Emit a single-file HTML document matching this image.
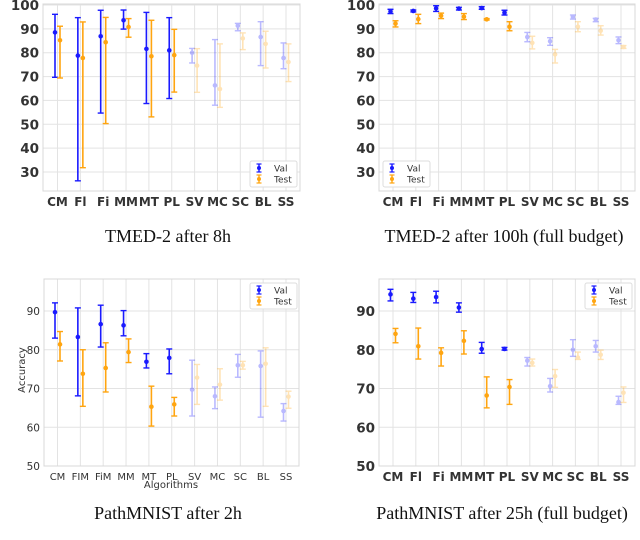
<!DOCTYPE html>
<html><head><meta charset="utf-8"><style>
body{margin:0;background:#fff;}
svg{display:block;}
</style></head><body>
<svg id="fig" width="640" height="540" viewBox="0 0 640 540" xmlns="http://www.w3.org/2000/svg"></svg>
<script>
const cats1 = ["CM","Fl","Fi","MM","MT","PL","SV","MC","SC","BL","SS"];
const cats3 = ["CM","FIM","FiM","MM","MT","PL","SV","MC","SC","BL","SS"];
// TMED-2 after 8h
const p1ValMean = [88.5,78.8,86.9,93.6,81.6,81.0,80.0,66.3,91.3,86.6,77.8];
const p1ValLo   = [69.7,26.3,54.7,89.9,58.7,60.8,75.7,58.0,89.2,74.6,73.3];
const p1ValHi   = [96.1,94.7,97.8,97.9,96.9,94.7,81.8,85.5,92.3,93.0,84.1];
const p1TestMean= [85.2,77.8,84.4,90.8,78.5,79.0,74.6,64.8,86.0,83.7,76.1];
const p1TestLo  = [69.4,31.8,50.3,86.5,53.1,63.5,63.4,57.1,81.3,73.6,67.9];
const p1TestHi  = [91.1,92.9,94.8,94.3,93.6,89.8,81.7,83.7,88.3,89.0,83.7];
// TMED-2 after 100h
const p2ValMean = [97.3,97.5,98.6,98.5,98.7,96.8,86.6,84.8,95.0,93.9,85.2];
const p2ValLo   = [96.4,97.1,97.3,97.9,98.2,95.8,84.6,83.1,94.1,93.0,83.8];
const p2ValHi   = [98.2,97.9,99.7,99.0,99.3,97.8,88.5,86.3,95.8,94.4,86.6];
const p2TestMean= [92.2,94.1,95.5,95.1,94.0,90.9,84.1,79.3,90.9,89.2,82.4];
const p2TestLo  = [90.8,92.2,94.3,93.9,93.7,89.2,81.6,75.7,88.8,87.4,81.8];
const p2TestHi  = [93.4,96.1,96.6,96.4,94.3,93.0,86.9,81.4,93.0,91.3,83.0];
// PathMNIST after 2h
const p3ValMean = [89.7,83.3,86.6,86.3,76.9,77.9,69.7,68.0,76.0,75.8,64.2];
const p3ValLo   = [83.0,68.1,80.7,83.6,75.3,73.8,62.9,64.8,72.9,62.6,61.6];
const p3ValHi   = [92.1,90.8,91.5,90.1,79.0,80.2,77.3,70.4,78.8,79.7,66.1];
const p3TestMean= [81.4,73.8,75.3,79.4,65.3,65.9,72.8,71.0,76.0,76.4,67.9];
const p3TestLo  = [77.1,65.4,69.1,76.7,60.3,62.9,65.9,67.0,75.0,65.4,64.9];
const p3TestHi  = [84.7,80.0,81.8,82.8,70.6,67.7,76.2,75.1,77.0,80.5,69.3];
// PathMNIST after 25h
const p4ValMean = [94.3,93.2,93.6,90.9,80.2,80.2,77.2,70.6,80.0,80.9,66.5];
const p4ValLo   = [92.6,92.2,92.1,89.7,79.1,79.9,75.8,69.1,78.3,79.4,65.9];
const p4ValHi   = [95.6,94.8,95.1,92.1,81.9,80.6,78.0,72.6,82.6,82.4,68.0];
const p4TestMean= [84.1,80.9,79.2,82.3,68.2,70.4,76.6,73.2,78.0,78.7,68.9];
const p4TestLo  = [81.8,77.6,75.8,78.9,65.0,65.9,75.8,70.3,77.5,77.5,66.4];
const p4TestHi  = [85.5,85.6,80.5,84.9,73.0,72.3,77.6,74.9,79.4,79.9,70.4];
const ticksTop = [30,40,50,60,70,80,90,100];
const ticksBot = [50,60,70,80,90];

const NS="http://www.w3.org/2000/svg";
const svg=document.getElementById('fig');
function mk(tag,attrs,parent){const e=document.createElementNS(NS,tag);for(const k in attrs)e.setAttribute(k,attrs[k]);(parent||svg).appendChild(e);return e;}

function panel(cfg){
  const g=mk('g',{});
  
  
  const x0=cfg.x0,x1=cfg.x1,y0=cfg.y0,y1=cfg.y1;
  const yS=v=>cfg.py0+(cfg.v0-v)*(cfg.py1-cfg.py0)/(cfg.v0-cfg.v1);
  const xS=i=>cfg.cx0+i*cfg.dx;
  cfg.ticks.forEach(t=>{const y=yS(t);
    const l=mk('line',{x1:x0,x2:x1,y1:y,y2:y,stroke:'#e3e3e3','stroke-width':1},g);
    
    const tx=mk('text',{x:x0-4,y:y+(cfg.bold?5:4),'text-anchor':'end','font-family':'"DejaVu Sans","Liberation Sans",sans-serif','font-size':cfg.bold?13.5:10.5,'font-weight':cfg.bold?'bold':'normal',fill:'#333'},g);
    tx.textContent=t;
  });
  cfg.cats.forEach((c,i)=>{const x=xS(i);
    const l=mk('line',{x1:x,x2:x,y1:y0,y2:y1,stroke:'#e3e3e3','stroke-width':1},g);
    
    const tx=mk('text',{x:x,y:y1+(cfg.bold?15:14),'text-anchor':'middle','font-family':'"DejaVu Sans","Liberation Sans",sans-serif','font-size':cfg.bold?12:10,'font-weight':cfg.bold?'bold':'normal',fill:'#333'},g);
    tx.textContent=c;
  });
  const fr=mk('rect',{x:x0,y:y0,width:x1-x0,height:y1-y0,fill:'none',stroke:'#d8d8d8','stroke-width':1},g);
  
  function series(mean,lo,hi,off,color,nm){
    mean.forEach((m,i)=>{const x=xS(i)+off;const op=i>=6?0.3:1;
      const s=mk('g',{opacity:op,stroke:color,fill:color},g);
      
      mk('line',{x1:x,x2:x,y1:yS(lo[i]),y2:yS(hi[i]),'stroke-width':1.6},s);
      mk('line',{x1:x-3,x2:x+3,y1:yS(lo[i]),y2:yS(lo[i]),'stroke-width':1.4},s);
      mk('line',{x1:x-3,x2:x+3,y1:yS(hi[i]),y2:yS(hi[i]),'stroke-width':1.4},s);
      mk('circle',{cx:x,cy:yS(m),r:2.3,stroke:'none'},s);
    });
  }
  series(cfg.vm,cfg.vl,cfg.vh,-2.5,'#1a1aff','val');
  series(cfg.tm,cfg.tl,cfg.th,2.5,'#ffa510','test');
  const L=cfg.leg;
  const lg=mk('g',{},g);
  
  mk('rect',{x:L[0],y:L[1],width:47,height:26,rx:2,fill:'#fff',stroke:'#ddd'},lg);
  [['Val','#1a1aff'],['Test','#ffa510']].forEach((e,k)=>{const yy=L[1]+7+k*11;const xx=L[0]+9;
    const eg=mk('g',{stroke:e[1],fill:e[1]},lg);
    
    mk('line',{x1:xx,x2:xx,y1:yy-4,y2:yy+4,'stroke-width':1.4},eg);
    mk('line',{x1:xx-2.5,x2:xx+2.5,y1:yy-4,y2:yy-4,'stroke-width':1.2},eg);
    mk('line',{x1:xx-2.5,x2:xx+2.5,y1:yy+4,y2:yy+4,'stroke-width':1.2},eg);
    mk('circle',{cx:xx,cy:yy,r:2,stroke:'none'},eg);
    const t=mk('text',{x:xx+15,y:yy+3.5,'font-family':'"DejaVu Sans","Liberation Sans",sans-serif','font-size':9,fill:'#333',stroke:'none'},eg);t.textContent=e[0];
  });
  const tt=mk('text',{x:cfg.tx,y:cfg.ty,'text-anchor':'middle','font-family':'"Liberation Serif",serif','font-size':18,fill:'#111'},g);
  tt.textContent=cfg.title;
  return g;
}
panel({name:'panel-tmed-8h',x0:43,x1:300,y0:4,y1:191,py0:5,py1:172,v0:100,v1:30,cx0:57.5,dx:22.85,ticks:ticksTop,cats:cats1,bold:true,
  vm:p1ValMean,vl:p1ValLo,vh:p1ValHi,tm:p1TestMean,tl:p1TestLo,th:p1TestHi,leg:[250,161],title:'TMED-2 after 8h',tx:168,ty:242});
panel({name:'panel-tmed-100h',x0:379,x1:635,y0:4,y1:191,py0:5,py1:172,v0:100,v1:30,cx0:393,dx:22.8,ticks:ticksTop,cats:cats1,bold:true,
  vm:p2ValMean,vl:p2ValLo,vh:p2ValHi,tm:p2TestMean,tl:p2TestLo,th:p2TestHi,leg:[383,161],title:'TMED-2 after 100h (full budget)',tx:504,ty:242});
panel({name:'panel-path-2h',x0:44,x1:299,y0:279,y1:466,py0:311,py1:466,v0:90,v1:50,cx0:57.5,dx:22.85,ticks:ticksBot,cats:cats3,bold:false,
  vm:p3ValMean,vl:p3ValLo,vh:p3ValHi,tm:p3TestMean,tl:p3TestLo,th:p3TestHi,leg:[250,283],title:'PathMNIST after 2h',tx:168,ty:519});
panel({name:'panel-path-25h',x0:379,x1:635,y0:279,y1:466,py0:311,py1:466,v0:90,v1:50,cx0:393,dx:22.8,ticks:ticksBot,cats:cats1,bold:true,
  vm:p4ValMean,vl:p4ValLo,vh:p4ValHi,tm:p4TestMean,tl:p4TestLo,th:p4TestHi,leg:[585,283],title:'PathMNIST after 25h (full budget)',tx:502,ty:519});
const yl=mk('text',{x:0,y:0,transform:'translate(25,370) rotate(-90)','text-anchor':'middle','font-family':'"DejaVu Sans","Liberation Sans",sans-serif','font-size':10,fill:'#333'});
yl.textContent='Accuracy';


const xl=mk('text',{x:171,y:488,'text-anchor':'middle','font-family':'"DejaVu Sans","Liberation Sans",sans-serif','font-size':10,fill:'#333'});
xl.textContent='Algorithms';


</script>
</body></html>
